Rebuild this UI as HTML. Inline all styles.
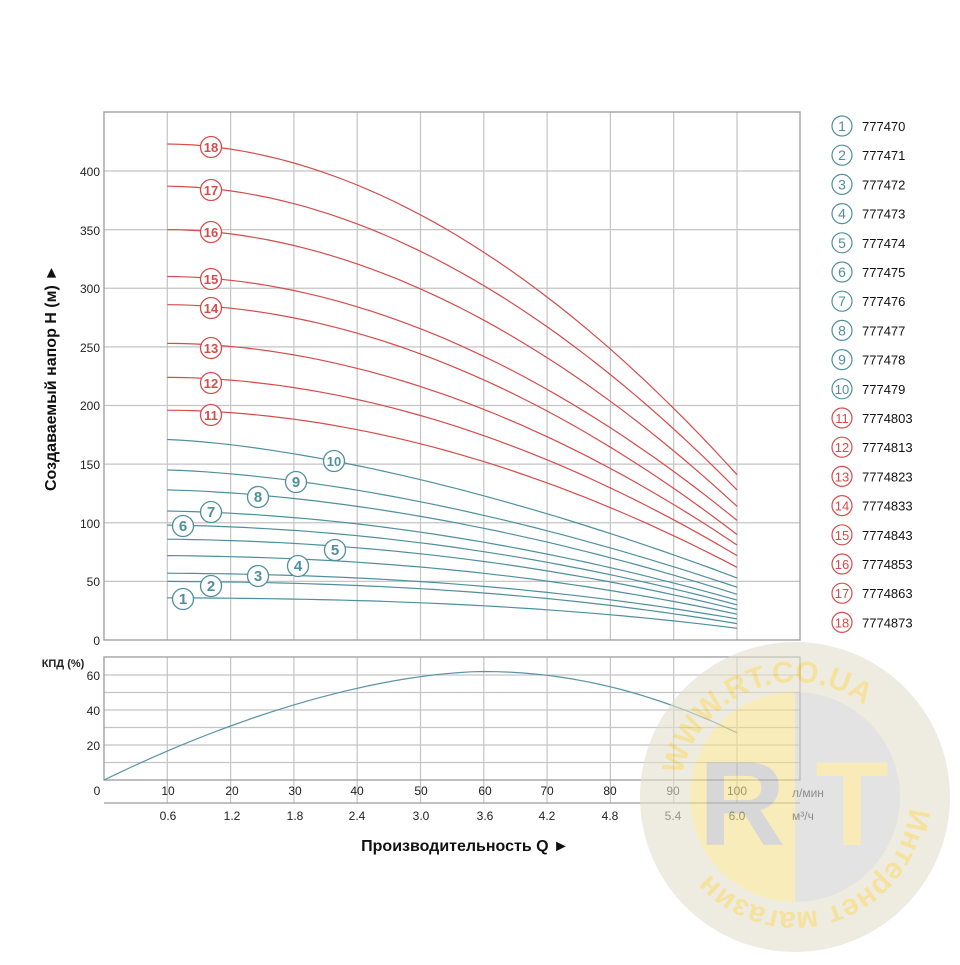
<!DOCTYPE html>
<html><head><meta charset="utf-8"><style>
body{margin:0;background:#fff;width:960px;height:960px;overflow:hidden}
svg text{font-family:"Liberation Sans",sans-serif}
</style></head><body>
<svg id="s" width="960" height="960" viewBox="0 0 960 960" xmlns="http://www.w3.org/2000/svg">
<g id="grid" stroke="#c4c4c4" stroke-width="1.2" fill="none"></g>
<rect x="104" y="112" width="696" height="528" fill="none" stroke="#9a9a9a" stroke-width="1.3"/>
<rect x="104" y="657" width="696" height="123" fill="none" stroke="#9a9a9a" stroke-width="1.3"/>
<line x1="104" y1="803" x2="800" y2="803" stroke="#9a9a9a" stroke-width="1.3"/>
<g id="curves" fill="none" stroke-width="1.2"></g>
<g font-size="12" fill="#222" text-anchor="end">
<text x="100" y="176">400</text><text x="100" y="235">350</text><text x="100" y="293">300</text><text x="100" y="352">250</text><text x="100" y="410">200</text><text x="100" y="469">150</text><text x="100" y="528">100</text><text x="100" y="586">50</text><text x="100" y="645">0</text>
<text x="100" y="680">60</text><text x="100" y="715">40</text><text x="100" y="750">20</text>
</g>
<text x="63" y="667" font-size="11" font-weight="bold" fill="#222" text-anchor="middle">КПД (%)</text>
<g font-size="12" fill="#222" text-anchor="middle">
<text x="97" y="795">0</text><text x="168" y="795">10</text><text x="232" y="795">20</text><text x="295" y="795">30</text><text x="357" y="795">40</text><text x="421" y="795">50</text><text x="485" y="795">60</text><text x="547" y="795">70</text><text x="610" y="795">80</text><text x="673" y="795">90</text><text x="737" y="795">100</text>
<text x="168" y="820">0.6</text><text x="232" y="820">1.2</text><text x="295" y="820">1.8</text><text x="357" y="820">2.4</text><text x="421" y="820">3.0</text><text x="485" y="820">3.6</text><text x="547" y="820">4.2</text><text x="610" y="820">4.8</text><text x="673" y="820">5.4</text><text x="737" y="820">6.0</text>
</g>
<text x="792" y="797" font-size="12" fill="#222">л/мин</text>
<text x="792" y="820" font-size="12" fill="#222">м³/ч</text>
<text x="465" y="851" font-size="16" font-weight="bold" fill="#111" text-anchor="middle">Производительность Q ►</text>
<text transform="translate(56,378) rotate(-90)" font-size="16" font-weight="bold" fill="#111" text-anchor="middle">Создаваемый напор H (м) ►</text>
<g id="labels" font-size="13" text-anchor="middle"></g>
<g id="legend" font-size="13"></g>
<g opacity="0.6">
<circle cx="795" cy="797" r="155" fill="#e4e0cc"/>
<circle cx="795" cy="797" r="105" fill="#f5e08e"/>
<path d="M795 692 A105 105 0 0 1 795 902 Z" fill="#d2d2d2"/>
<text x="742" y="845" font-size="120" font-weight="bold" fill="#bdbdbd" text-anchor="middle">R</text>
<text x="852" y="845" font-size="120" font-weight="bold" fill="#f5df8a" text-anchor="middle">T</text>
<path id="arcT" d="M680 797 A115 115 0 0 1 910 797" fill="none"/>
<text font-size="30" font-weight="bold" fill="#f0d060"><textPath href="#arcT" startOffset="6%">WWW.RT.CO.UA</textPath></text>
<path id="arcB" d="M910 797 A115 115 0 0 1 680 797" fill="none"/>
<text font-size="30" font-weight="bold" fill="#f0d060"><textPath href="#arcB" startOffset="3%">Интернет магазин</textPath></text>
</g>
</svg>
<script>
const NS="http://www.w3.org/2000/svg";
const X=q=>104+q*6.33, Y=h=>640-h*1.1725, YE=e=>780-e*1.75;
function el(p,t,a){const e=document.createElementNS(NS,t);for(const k in a)e.setAttribute(k,a[k]);p.appendChild(e);return e;}
const g=document.getElementById('grid');
for(let q=10;q<=100;q+=10){el(g,'line',{x1:X(q),y1:112,x2:X(q),y2:640});el(g,'line',{x1:X(q),y1:657,x2:X(q),y2:803});}
for(let h=50;h<=400;h+=50)el(g,'line',{x1:104,y1:Y(h),x2:800,y2:Y(h)});
for(let e=10;e<=60;e+=10)el(g,'line',{x1:104,y1:YE(e),x2:800,y2:YE(e)});
const c=document.getElementById('curves');
const red=[[196,62],[224,72],[253,81],[286,90],[310,102],[350,114],[387,128],[423,141]];
const blue=[[36,10],[50,14],[57,18],[72,22],[86,26],[98,30],[110,34],[128,39],[145,45],[171,53]];
function curve(h0,h1,p,a,col){let d='';for(let q=10;q<=100;q+=2){const t=(q-10)/90;const h=h0-(h0-h1)*(a*t+(1-a)*Math.pow(t,p));d+=(q==10?'M':'L')+X(q).toFixed(1)+' '+Y(h).toFixed(1);}el(c,'path',{d:d,stroke:col});}
red.forEach(r=>curve(r[0],r[1],1.9,0,'#d64b4b'));
blue.forEach((b,i)=>curve(b[0],b[1],2.5-i*0.1,0.1,'#4f8f9d'));
let d='';for(let q=0;q<=100;q+=2){let e=q<=60?62*(1-Math.pow(1-q/60,1.7)):62-35*Math.pow((q-60)/40,2);d+=(q==0?'M':'L')+X(q).toFixed(1)+' '+YE(e).toFixed(1);}
el(c,'path',{d:d,stroke:'#5a93a6'});
const L=document.getElementById('labels');
const pos=[[183,599],[211,586],[258,576],[298,566],[335,550],[183,526],[211,512],[258,497],[296,482],[334,461],[211,415],[211,383],[211,348],[211,308],[211,279],[211,232],[211,190],[211,147]];
pos.forEach((p,i)=>{const col=i<10?'#4f8f9d':'#d64b4b';el(L,'circle',{cx:p[0],cy:p[1],r:10.5,fill:'#fff',stroke:col,'stroke-width':1.3});const t=el(L,'text',{x:p[0],y:p[1]+5,fill:col,'font-weight':'bold','font-size':i<9?15:13});t.textContent=i+1;});
const G=document.getElementById('legend');
const codes=['777470','777471','777472','777473','777474','777475','777476','777477','777478','777479','7774803','7774813','7774823','7774833','7774843','7774853','7774863','7774873'];
codes.forEach((s,i)=>{const y=126+i*29.2;const col=i<10?'#4f8f9d':'#d64b4b';el(G,'circle',{cx:842,cy:y,r:10,fill:'#fff',stroke:col,'stroke-width':1.2});const n=el(G,'text',{x:842,y:y+5,fill:col,'text-anchor':'middle','font-size':i<9?14:13});n.textContent=i+1;const t=el(G,'text',{x:862,y:y+5,fill:'#111'});t.textContent=s;});
</script>
</body></html>
